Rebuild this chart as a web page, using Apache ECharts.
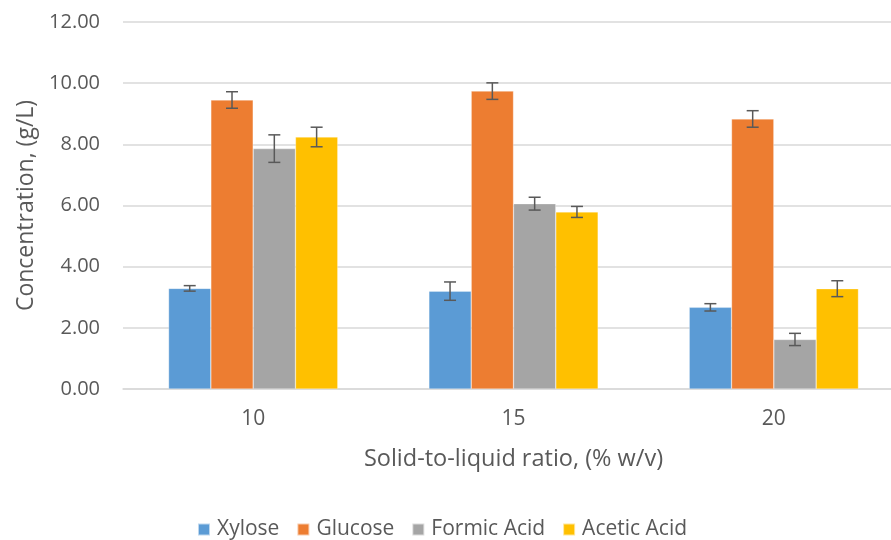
<!DOCTYPE html>
<html>
<head>
<meta charset="utf-8">
<script src="https://cdn.jsdelivr.net/npm/echarts@6/dist/echarts.min.js"></script>
<style>
  html, body { margin: 0; padding: 0; background: #fff; overflow: hidden; }
  /* plot runs a little past the right edge of the window, like the original */
  #chart { width: 904px; height: 540px; }
</style>
</head>
<body>
<div id="chart"></div>
<script>
// categories (solid-to-liquid ratio)
const ratios = ['10', '15', '20'];
const seriesNames = ['Xylose', 'Glucose', 'Formic Acid', 'Acetic Acid'];
const colors = ['#5B9BD5', '#ED7D31', '#A5A5A5', '#FFC000'];

// mean concentrations, g/L
const xylose = [3.29, 3.20, 2.67];
const glucose = [9.45, 9.74, 8.83];
const formicAcid = [7.86, 6.06, 1.62];
const aceticAcid = [8.24, 5.79, 3.28];

// error (+/-), g/L
const xyloseErr = [0.09, 0.30, 0.12];
const glucoseErr = [0.27, 0.27, 0.27];
const formicAcidErr = [0.45, 0.21, 0.20];
const aceticAcidErr = [0.32, 0.18, 0.26];

const yTicks = [0, 2, 4, 6, 8, 10, 12];

const means = [xylose, glucose, formicAcid, aceticAcid];
const errs = [xyloseErr, glucoseErr, formicAcidErr, aceticAcidErr];

const FONT = 'Open Sans';
const TXT = '#595959';
const CAT_GAP = 0.35; // fraction of category left empty

const chart = echarts.init(document.getElementById('chart'));

// error bar drawn on top of bar i of each group
function errorSeries(idx) {
  const data = ratios.map((r, k) => [k, means[idx][k] - errs[idx][k], means[idx][k] + errs[idx][k]]);
  return {
    type: 'custom',
    name: seriesNames[idx] + ' err',
    z: 10,
    silent: true,
    data: data,
    encode: { x: 0, y: [1, 2] },
    renderItem: function (params, api) {
      const k = api.value(0);
      const lo = api.coord([k, api.value(1)]);
      const hi = api.coord([k, api.value(2)]);
      const catW = api.size([1, 0])[0];
      const barW = catW * (1 - CAT_GAP) / 4;
      const x = lo[0] + (idx - 1.5) * barW;
      const cap = 6;
      const st = { stroke: '#595959', lineWidth: 1.5 };
      return {
        type: 'group',
        children: [
          { type: 'line', shape: { x1: x, y1: lo[1], x2: x, y2: hi[1] }, style: st },
          { type: 'line', shape: { x1: x - cap, y1: lo[1], x2: x + cap, y2: lo[1] }, style: st },
          { type: 'line', shape: { x1: x - cap, y1: hi[1], x2: x + cap, y2: hi[1] }, style: st }
        ]
      };
    }
  };
}

const barSeries = seriesNames.map((name, i) => ({
  type: 'bar',
  name: name,
  data: means[i],
  barGap: '0%',
  barCategoryGap: (CAT_GAP * 100) + '%',
  itemStyle: { color: colors[i], borderColor: 'rgba(255,255,255,0.6)', borderWidth: 0.5 }
}));

const option = {
  animation: false,
  backgroundColor: '#fff',
  textStyle: { fontFamily: FONT },
  grid: { left: 123, top: 22, right: 0, height: 367, containLabel: false },
  legend: {
    data: seriesNames,
    top: 519,
    left: 197,
    padding: 0,
    itemWidth: 12,
    itemHeight: 12,
    itemGap: 17,
    icon: 'rect',
    textStyle: { fontFamily: FONT, fontSize: 21, color: TXT, padding: [0, 0, 0, 2] }
  },
  xAxis: {
    type: 'category',
    data: ratios,
    name: 'Solid-to-liquid ratio, (% w/v)',
    nameLocation: 'middle',
    nameGap: 58,
    nameTextStyle: { fontFamily: FONT, fontSize: 23.5, color: TXT },
    axisLine: { lineStyle: { color: '#D9D9D9', width: 1.5 } },
    axisTick: { show: false },
    axisLabel: { fontFamily: FONT, fontSize: 21, color: TXT, margin: 20 }
  },
  yAxis: {
    type: 'value',
    min: yTicks[0],
    max: yTicks[yTicks.length - 1],
    interval: 2,
    name: 'Concentration, (g/L)',
    nameLocation: 'middle',
    nameGap: 84,
    nameTextStyle: { fontFamily: FONT, fontSize: 23, color: TXT },
    axisLine: { show: false },
    axisTick: { show: false },
    splitLine: { lineStyle: { color: '#D9D9D9', width: 1.5 } },
    axisLabel: {
      fontFamily: FONT, fontSize: 20, color: TXT, margin: 23,
      formatter: v => v.toFixed(2)
    }
  },
  series: barSeries.concat([0, 1, 2, 3].map(errorSeries))
};

chart.setOption(option);
</script>
</body>
</html>
